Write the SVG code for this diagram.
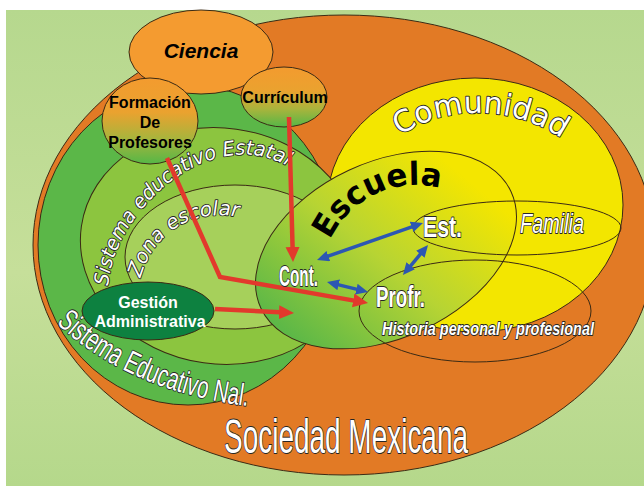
<svg xmlns="http://www.w3.org/2000/svg" width="644" height="486" viewBox="0 0 644 486">
<defs>
<linearGradient id="bg" x1="0" y1="0" x2="0" y2="1">
<stop offset="0" stop-color="#b6d88e"/><stop offset="0.55" stop-color="#c6df9a"/><stop offset="1" stop-color="#b5d88b"/>
</linearGradient>
<linearGradient id="og" x1="0" y1="0" x2="0" y2="1">
<stop offset="0" stop-color="#f39b2f"/><stop offset="0.4" stop-color="#eaa22f"/><stop offset="0.7" stop-color="#a9b43c"/><stop offset="1" stop-color="#55b747"/>
</linearGradient>
<linearGradient id="esc" gradientUnits="userSpaceOnUse" x1="270" y1="300" x2="480" y2="200">
<stop offset="0" stop-color="#5db847"/><stop offset="0.5" stop-color="#b7d433"/><stop offset="1" stop-color="#f4e600"/>
</linearGradient>
<marker id="ra" markerUnits="userSpaceOnUse" markerWidth="16" markerHeight="15" refX="1" refY="7" orient="auto">
<path d="M0,0 L15,7 L0,14 z" fill="#e2392c"/>
</marker>
<marker id="ba" markerUnits="userSpaceOnUse" markerWidth="13" markerHeight="12" refX="1" refY="5.5" orient="auto-start-reverse">
<path d="M0,0 L12,5.5 L0,11 z" fill="#2c57b3"/>
</marker>
<path id="pEsc" d="M 330 240 A 95 95 0 0 1 440.6 188.2"/>
<path id="pCom" d="M 400 136 C 442 106, 522 99, 580 153"/>
<path id="pEst" d="M 108 290 C 110 210, 220 110, 302 176"/>
<path id="pZon" d="M 140 280 C 150 240, 185 205, 245 218"/>
<path id="pNal" d="M 55 322 C 90 355, 150 395, 255 407"/>
</defs>
<style>
.e { stroke: #3b2a14; stroke-width: 1; }
.ol { fill: #fff; stroke: #262626; stroke-width: 1.8; paint-order: stroke; stroke-linejoin: round; }
.rd { fill: none; stroke: #e2392c; stroke-width: 4.5; }
.bl { fill: none; stroke: #2c57b3; stroke-width: 3.5; }
.sans { font-family: 'Liberation Sans', Arial, sans-serif; }
.nar { font-family: 'Liberation Sans Narrow', 'Liberation Sans', Arial, sans-serif; }
.hand { font-family: 'DejaVu Sans', sans-serif; }
</style>
<rect x="0" y="0" width="644" height="486" fill="#fff"/>
<rect x="6" y="10" width="638" height="476" fill="url(#bg)"/>

<g id="sociedad">
<ellipse class="e" cx="344" cy="245" rx="311" ry="230" fill="#e27a25"/>
<text class="nar ol" x="224" y="453" font-size="48" textLength="244" lengthAdjust="spacingAndGlyphs">Sociedad Mexicana</text>
</g>
<g id="comunidad">
<ellipse class="e" cx="475" cy="205" rx="148" ry="127" fill="#f3e600"/>
<text class="hand ol" font-size="30"><textPath href="#pCom">Comunidad</textPath></text>
</g>
<g id="nal">
<ellipse class="e" cx="188" cy="245" rx="150" ry="160" fill="#5bb748"/>
</g>
<g id="estatal">
<ellipse class="e" cx="220" cy="246" rx="140" ry="118" transform="rotate(8 220 246)" fill="#8cc53f"/>
</g>
<g id="zona">
<ellipse class="e" cx="235" cy="257" rx="110" ry="72" fill="#a6d05b"/>
</g>
<g id="escuela">
<ellipse class="e" cx="386" cy="250" rx="138" ry="88" transform="rotate(-25 386 250)" fill="url(#esc)"/>
<text class="hand" font-size="32" font-weight="bold" fill="#000"><textPath href="#pEsc" textLength="132" lengthAdjust="spacingAndGlyphs">Escuela</textPath></text>
</g>
<g id="familia">
<ellipse class="e" cx="517" cy="228" rx="104" ry="27" fill="none"/>
<text class="nar ol" x="520" y="233" font-size="27" font-style="italic" textLength="64" lengthAdjust="spacingAndGlyphs">Familia</text>
</g>
<g id="historia">
<ellipse class="e" cx="475" cy="311" rx="116" ry="51" fill="none"/>
<text class="nar ol" x="382" y="335" font-size="19" font-weight="bold" font-style="italic" textLength="212" lengthAdjust="spacingAndGlyphs">Historia personal y profesional</text>
</g>
<g id="ciencia">
<ellipse class="e" cx="201" cy="52" rx="72" ry="42" fill="#f49b30"/>
<text class="sans" x="201" y="58" font-size="21" font-weight="bold" font-style="italic" text-anchor="middle">Ciencia</text>
</g>
<g id="formacion">
<ellipse class="e" cx="150" cy="121" rx="48" ry="43" fill="url(#og)"/>
<text class="sans" font-size="16" font-weight="bold" text-anchor="middle"><tspan x="150" y="108">Formación</tspan><tspan x="150" y="128">De</tspan><tspan x="150" y="148">Profesores</tspan></text>
</g>
<g id="curriculum">
<ellipse class="e" cx="284" cy="97" rx="43" ry="30" fill="url(#og)"/>
<text class="sans" x="285" y="103" font-size="16" font-weight="bold" text-anchor="middle">Currículum</text>
</g>
<g id="gestion">
<ellipse class="e" cx="148" cy="311" rx="66" ry="29" fill="#0d8140"/>
<text class="sans" font-size="16" font-weight="bold" fill="#fff" text-anchor="middle"><tspan x="148" y="308">Gestión</tspan><tspan x="150" y="327">Administrativa</tspan></text>
</g>
<g id="labels">
<text class="hand ol" font-size="20" font-style="italic"><textPath href="#pEst" startOffset="4" textLength="250" lengthAdjust="spacingAndGlyphs">Sistema educativo Estatal</textPath></text>
<text class="hand ol" font-size="20" font-style="italic"><textPath href="#pZon" startOffset="2" textLength="128" lengthAdjust="spacingAndGlyphs">Zona escolar</textPath></text>
<text class="nar ol" font-size="31"><textPath href="#pNal" startOffset="2" textLength="212" lengthAdjust="spacingAndGlyphs">Sistema Educativo Nal.</textPath></text>
</g>
<g id="connectors">
<polyline class="rd" points="167,158 220,277 354.2,300.6" marker-end="url(#ra)"/>
<line class="rd" x1="289" y1="117" x2="292.6" y2="248" marker-end="url(#ra)"/>
<line class="rd" x1="215" y1="309" x2="280" y2="312.3" marker-end="url(#ra)"/>
<line class="bl" x1="327.4" y1="256.4" x2="412.6" y2="226.6" marker-start="url(#ba)" marker-end="url(#ba)"/>
<line class="bl" x1="421" y1="253.4" x2="410" y2="266.6" marker-start="url(#ba)" marker-end="url(#ba)"/>
<line class="bl" x1="337.7" y1="284.6" x2="357.3" y2="289.4" marker-start="url(#ba)" marker-end="url(#ba)"/>
</g>
<g id="nodes-text">
<text class="nar ol" x="279" y="286" font-size="30" font-weight="bold" textLength="39" lengthAdjust="spacingAndGlyphs">Cont.</text>
<text class="nar ol" x="423" y="237" font-size="30" font-weight="bold" textLength="39" lengthAdjust="spacingAndGlyphs">Est.</text>
<text class="nar ol" x="376" y="307" font-size="30" font-weight="bold" textLength="49" lengthAdjust="spacingAndGlyphs">Profr.</text>
</g>
</svg>
